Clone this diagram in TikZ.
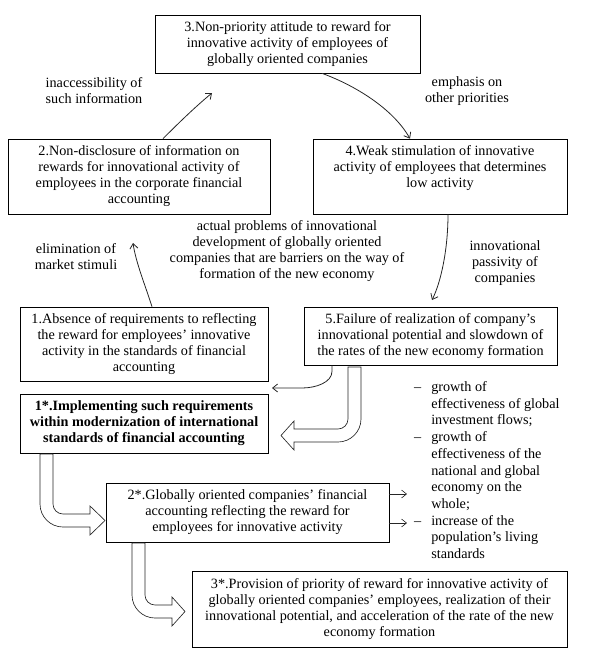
\documentclass[tikz,border=0pt]{standalone}
\usepackage{fontspec}
\setmainfont{Liberation Serif}
\usepackage{tikz}
\usetikzlibrary{arrows.meta, positioning, calc}

\begin{document}
\begin{tikzpicture}[
    x=1pt, y=-1pt,
    >={Straight Barb[length=5pt, width=8pt]},
    font=\fontsize{14.2}{16}\selectfont,
    box/.style={rectangle, draw, line width=0.7pt, align=center, inner sep=3pt},
    lbl/.style={align=center, inner sep=0pt},
    conn/.style={->, black!85, line width=0.8pt},
    hollow/.style={draw=black!85, fill=white, line width=0.65pt, line join=miter}
]

\useasboundingbox (0,0) rectangle (592,657);

% -------- Circle of problems --------
\node[box, minimum width=265pt, minimum height=58pt] (b3) at (287.5,44)
    {3.Non-priority attitude to reward for\\innovative activity of employees of\\globally oriented companies};
\node[box, minimum width=262pt, minimum height=75pt] (b2) at (139,176.5)
    {2.Non-disclosure of information on\\rewards for innovational activity of\\employees in the corporate financial\\accounting};
\node[box, minimum width=254pt, minimum height=75pt] (b4) at (440,176.5)
    {4.Weak stimulation of innovative\\activity of employees that determines\\low activity\\\strut};
\node[box, minimum width=248pt, minimum height=74pt] (b1) at (144,344)
    {1.Absence of requirements to reflecting\\the reward for employees' innovative\\activity in the standards of financial\\accounting};
\node[box, minimum width=253pt, minimum height=58pt] (b5) at (430.5,336)
    {5.Failure of realization of company's\\innovational potential and slowdown of\\the rates of the new economy formation};

% -------- Labels --------
\node[lbl] (l23) at (94,91) {inaccessibility of\\such information};
\node[lbl] (l34) at (467,91) {emphasis on\\other priorities};
\node[lbl] (lmid) at (287,251) {actual problems of innovational\\development of globally oriented\\companies that are barriers on the way of\\formation of the new economy};
\node[lbl] (l1) at (76,257) {elimination of\\market stimuli};
\node[lbl] (l45) at (505,263.5) {innovational\\passivity of\\companies};

% -------- Arrows of the circle --------
\coordinate (s23) at ([xshift=24pt]b2.north);
\coordinate (e23) at (212,93);
\coordinate (s34) at ([xshift=34.5pt]b3.south);
\coordinate (e34) at ([xshift=-30pt]b4.north);
\coordinate (s45) at ([xshift=8pt]b4.south);
\coordinate (e45) at (432,300);
\coordinate (s1) at ([xshift=8pt]b1.north);
\coordinate (e1) at (133,243);
\coordinate (s5) at ([xshift=-98.5pt]b5.south);
\coordinate (e5) at (272,388);

\draw[conn] (s23) .. controls ($(s23)+(15,-15)$) and ($(e23)+(-17,14)$) .. (e23);
\draw[conn] (s34) .. controls ($(s34)+(33,12)$) and ($(e34)+(-17,-30)$) .. (e34);
\draw[conn] (s45) .. controls ($(s45)+(0,35)$) and ($(e45)+(9,-18)$) .. (e45);
\draw[conn] (s1) .. controls ($(s1)+(-7,-22)$) and ($(e1)+(3,20)$) .. (e1);
\draw[conn] (s5) -- ($(s5)+(0,6)$) .. controls ($(s5)+(0,17)$) and ($(e5)+(44,0)$) .. ($(e5)+(30,0)$) -- (e5);

% -------- Solutions --------
\node[box, minimum width=248pt, minimum height=59pt,
      font=\fontsize{14.2}{16}\selectfont\bfseries] (b1s) at (144,423.5)
    {1*.Implementing such requirements\\within modernization of international\\standards of financial accounting};
\node[box, minimum width=283pt, minimum height=59pt] (b2s) at (247.5,512.5)
    {2*.Globally oriented companies' financial\\accounting reflecting the reward for\\employees for innovative activity};
\node[box, minimum width=375pt, minimum height=76pt] (b3s) at (379.5,609)
    {3*.Provision of priority of reward for innovative activity of\\globally oriented companies' employees, realization of their\\innovational potential, and acceleration of the rate of the new\\economy formation};

% -------- Hollow arrows --------
\draw[hollow] (348,367) -- (348,419) .. controls (348,424.5) and (343.5,429) .. (338,429)
    -- (294,429) -- (294,421) -- (281,435.5) -- (294,450) -- (294,442)
    -- (338,442) .. controls (350.7,442) and (361,431.7) .. (361,419) -- (361,367) -- cycle;
\draw[hollow] (53,454) -- (53,504) .. controls (53,509.5) and (57.5,514) .. (63,514)
    -- (90,514) -- (90,506) -- (105,520.5) -- (90,535) -- (90,527)
    -- (63,527) .. controls (50.3,527) and (40,516.7) .. (40,504) -- (40,454) -- cycle;
\draw[hollow] (145,543) -- (145,595) .. controls (145,600.5) and (149.5,605) .. (155,605)
    -- (172,605) -- (172,597) -- (185,611.5) -- (172,626) -- (172,618)
    -- (155,618) .. controls (142.3,618) and (132,607.7) .. (132,595) -- (132,543) -- cycle;

% -------- Effects --------
\coordinate (f1) at (407,494);
\coordinate (f2) at (407,523);
\draw[conn, line width=0.6pt] ([yshift=18.5pt]b2s.east) -- (f1);
\draw[conn, line width=0.6pt] ([yshift=-10.5pt]b2s.east) -- (f2);

\node[anchor=base west, inner sep=0pt, font=\fontsize{14.2}{16.7}\selectfont] (effects) at (414,391.5)
    {\begin{tabular}[t]{@{}l@{\hspace{10pt}}l@{}}
     \textendash & growth of\\
                 & effectiveness of global\\
                 & investment flows;\\
     \textendash & growth of\\
                 & effectiveness of the\\
                 & national and global\\
                 & economy on the\\
                 & whole;\\
     \textendash & increase of the\\
                 & population's living\\
                 & standards
     \end{tabular}};

\end{tikzpicture}
\end{document}
